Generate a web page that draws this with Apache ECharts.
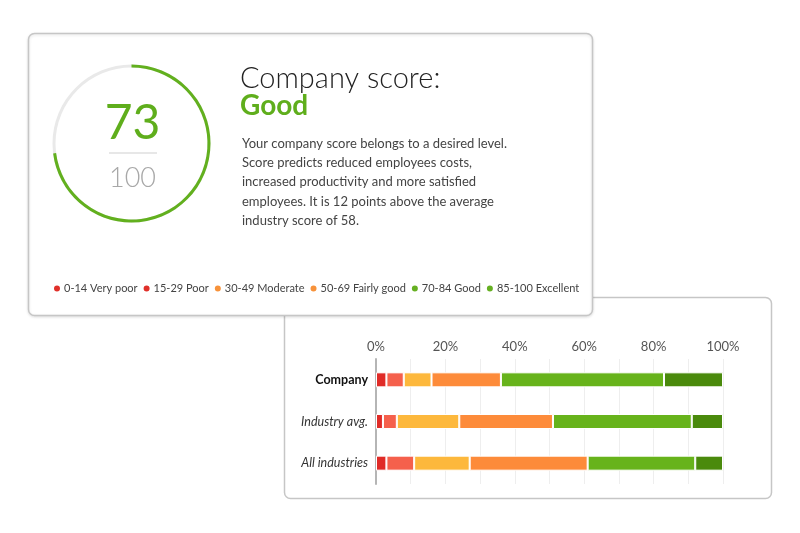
<!DOCTYPE html>
<html>
<head>
<meta charset="utf-8">
<script src="https://cdn.jsdelivr.net/npm/echarts@6/dist/echarts.min.js"></script>
<style>
html,body{margin:0;padding:0;background:#fff;}
#c{width:800px;height:533px;}
</style>
</head>
<body>
<div id="c"></div>
<script>
// ---- data ----
const score = 73;
const scoreMax = 100;
const categories = ['Company', 'Industry avg.', 'All industries'];
const bandNames = ['0-14 Very poor', '15-29 Poor', '30-49 Moderate', '50-69 Fairly good', '70-84 Good', '85-100 Excellent'];
const veryPoor   = [3, 2, 3];
const poor       = [5, 4, 8];
const moderate   = [8, 18, 16];
const fairlyGood = [20, 27, 34];
const good       = [47, 40, 31];
const excellent  = [17, 9, 8];
const xTicks = [0, 20, 40, 60, 80, 100];
const titleText = 'Company score:';
const ratingText = 'Good';
const paragraph = [
  'Your company score belongs to a desired level.',
  'Score predicts reduced employees costs,',
  'increased productivity and more satisfied',
  'employees. It is 12 points above the average',
  'industry score of 58.'
];

// ---- styles ----
const bandColors = ['#e02b27', '#f5604c', '#fdb83c', '#fd8b3a', '#67b31b', '#4a8a0c'];
const legendDotColors = ['#e0302a', '#e0302a', '#f7923a', '#f7923a', '#66b022', '#66b022'];
const FONT = 'Lato, "Open Sans", sans-serif';

const bandValues = [veryPoor, poor, moderate, fairlyGood, good, excellent];
const barSeries = bandNames.map((n, i) => ({
  name: n,
  type: 'bar',
  stack: 'total',
  barWidth: 15,
  itemStyle: { color: bandColors[i], borderColor: '#fff', borderWidth: 1 },
  data: bandValues[i],
  silent: true
}));

const chart = echarts.init(document.getElementById('c'), null, { renderer: 'canvas' });
chart.setOption({
  animation: false,
  textStyle: { fontFamily: FONT },
  graphic: [
    // card 2 (behind)
    { type: 'rect', z: -20, shape: { x: 284.5, y: 297.5, width: 487, height: 201, r: 6 },
      style: { fill: '#fff', stroke: '#c6c6c6', lineWidth: 1.5 } },
    // card 1 (front)
    { type: 'rect', z: -10, shape: { x: 28.5, y: 33.5, width: 564, height: 282, r: 6 },
      style: { fill: '#fff', stroke: '#c6c6c6', lineWidth: 1.5, shadowBlur: 3, shadowColor: 'rgba(0,0,0,0.12)', shadowOffsetY: 1 } },
    { type: 'text', z: 10, left: 240, top: 64,
      style: { text: titleText, font: '300 29px ' + FONT, fill: '#222' } },
    { type: 'text', z: 10, left: 240, top: 92,
      style: { text: ratingText, font: 'bold 28px ' + FONT, fill: '#5fae1c' } },
    { type: 'text', z: 10, left: 242, top: 134,
      style: { text: paragraph.join('\n'), font: '13px ' + FONT, fill: '#444', lineHeight: 19.3 } },
    // gauge separator & max
    { type: 'line', z: 10, shape: { x1: 109, y1: 153, x2: 157, y2: 153 },
      style: { stroke: '#cfcfcf', lineWidth: 1.2 } },
    { type: 'text', z: 10, left: 109, top: 165,
      style: { text: String(scoreMax), font: '300 27px ' + FONT, fill: '#a8a8a8' } }
  ],
  legend: {
    left: 47, top: 278,
    icon: 'circle', itemWidth: 8, itemHeight: 8, itemGap: 4,
    selectedMode: false,
    textStyle: { fontSize: 11, color: '#444', fontFamily: FONT, padding: [0, 0, 0, -2] },
    data: bandNames.map((n, i) => ({ name: n, itemStyle: { color: legendDotColors[i] } }))
  },
  grid: { left: 376, top: 359, width: 347, height: 125, containLabel: false },
  xAxis: {
    type: 'value', position: 'top', min: 0, max: 100, interval: 20,
    axisLine: { show: false }, axisTick: { show: false },
    axisLabel: { formatter: '{value}%', color: '#555', fontSize: 13, margin: 6, fontFamily: FONT },
    splitLine: { show: true, lineStyle: { color: '#eeeeee', width: 1 } },
    minorTick: { show: false, splitNumber: 2 },
    minorSplitLine: { show: true, lineStyle: { color: '#eeeeee', width: 1 } }
  },
  yAxis: {
    type: 'category', data: categories, inverse: true,
    axisTick: { show: false },
    axisLine: { show: true, lineStyle: { color: '#b5b5b5', width: 2 } },
    axisLabel: {
      margin: 8,
      formatter: v => v === 'Company' ? '{b|' + v + '}' : '{i|' + v + '}',
      rich: {
        b: { fontWeight: 'bold', fontSize: 12.5, color: '#111', fontFamily: FONT },
        i: { fontStyle: 'italic', fontSize: 12.5, color: '#333', fontFamily: FONT }
      }
    }
  },
  series: [
    {
      type: 'gauge',
      center: [131.5, 143.5],
      radius: 79,
      startAngle: 90, endAngle: -270,
      min: 0, max: scoreMax,
      pointer: { show: false },
      axisTick: { show: false }, splitLine: { show: false }, axisLabel: { show: false },
      axisLine: { lineStyle: { width: 3, color: [[1, '#e9e9e9']] } },
      progress: { show: true, width: 3, roundCap: false, itemStyle: { color: '#62b01e' } },
      title: { show: false },
      detail: { offsetCenter: [1, -20], fontSize: 48, fontWeight: 'normal', color: '#5fae1c', fontFamily: FONT, formatter: '{value}' },
      data: [{ value: score }],
      silent: true
    }
  ].concat(barSeries)
});
</script>
</body>
</html>
